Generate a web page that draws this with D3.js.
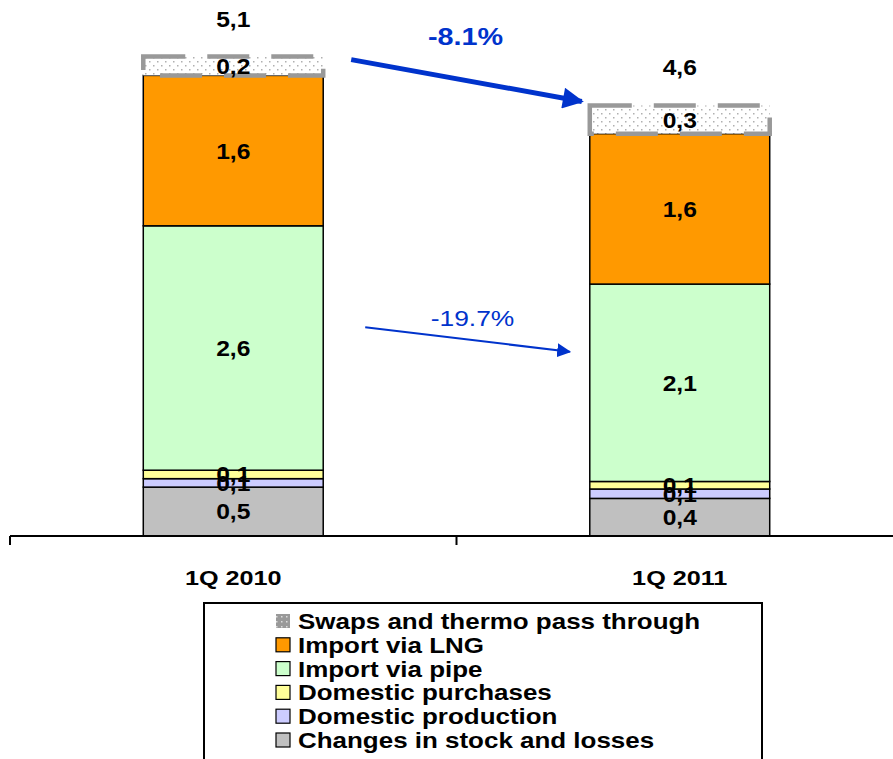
<!DOCTYPE html>
<html><head><meta charset="utf-8">
<script src="https://cdn.jsdelivr.net/npm/d3@7"></script>
<style>body{margin:0;background:#fff}svg{display:block;font-family:"Liberation Sans",Arial,sans-serif}</style>
</head><body>
<script>
const categories = ["1Q 2010", "1Q 2011"];
const seriesNames = ["Changes in stock and losses","Domestic production","Domestic purchases","Import via pipe","Import via LNG","Swaps and thermo pass through"];
const stockLosses = [0.52, 0.40];
const domesticProduction = [0.09, 0.10];
const domesticPurchases = [0.09, 0.08];
const importPipe = [2.60, 2.10];
const importLNG = [1.60, 1.60];
const swaps = [0.20, 0.30];
const colors = ["#C0C0C0","#CCCCFF","#FFFF99","#CCFFCC","#FF9900","url(#dots)"];
const changeLabels = ["-8.1%", "-19.7%"];
const legendOrder = [5,4,3,2,1,0];

const W = 893, H = 759;
const svg = d3.select("body").append("svg").attr("width", W).attr("height", H);
const defs = svg.append("defs");
const pat = defs.append("pattern").attr("id","dots").attr("patternUnits","userSpaceOnUse").attr("width",8).attr("height",8);
pat.append("rect").attr("width",8).attr("height",8).attr("fill","#fff");
pat.append("rect").attr("x",1).attr("y",1).attr("width",1.5).attr("height",1.5).attr("fill","#b0b0b0");
pat.append("rect").attr("x",5).attr("y",5).attr("width",1.5).attr("height",1.5).attr("fill","#b0b0b0");
const spat = defs.append("pattern").attr("id","sdots").attr("patternUnits","userSpaceOnUse").attr("width",5).attr("height",5);
spat.append("rect").attr("width",5).attr("height",5).attr("fill","#999");
spat.append("rect").attr("x",1).attr("y",1).attr("width",1.5).attr("height",1.5).attr("fill","#ddd");
["big","small"].forEach(id=>{
  defs.append("marker").attr("id","arr-"+id).attr("viewBox","0 0 10 10").attr("refX",9).attr("refY",5)
    .attr("markerWidth", id==="big"?4.4:7).attr("markerHeight", id==="big"?4.2:7).attr("markerUnits","strokeWidth").attr("orient","auto")
    .append("path").attr("d","M0,0L10,5L0,10Z").attr("fill","#0033CC");
});

// helper: horizontally widened text
function txt(parent, x0, y0, s, opts) {
  const gg = parent.append("g").attr("transform", `translate(${x0},${y0}) scale(${opts.sx || 1.15},1)`);
  const t = gg.append("text").attr("dy","0.36em").attr("font-size", opts.size || 22)
    .attr("font-weight", opts.weight || "bold").attr("fill", opts.fill || "#000")
    .attr("text-anchor", opts.anchor || "middle").text(s);
  return t;
}

const x = d3.scaleBand().domain(categories).range([10, 903]).paddingInner(0).paddingOuter(0);
const y = d3.scaleLinear().domain([0, 6]).range([536, 536 - 6*94]);
const barW = x.bandwidth() * 0.403;

const series = [stockLosses, domesticProduction, domesticPurchases, importPipe, importLNG, swaps];
const table = categories.map((c,i)=>{ const o={cat:c}; series.forEach((s,k)=>o[k]=s[i]); return o; });
const stack = d3.stack().keys(d3.range(series.length))(table);
const fmt = v => d3.format(".1f")(v).replace(".", ",");

const g = svg.append("g");
stack.forEach((layer, k)=>{
  layer.forEach((d,i)=>{
    const cx = x(categories[i]) + x.bandwidth()/2;
    const r = g.append("rect").attr("x", cx - barW/2).attr("y", y(d[1])).attr("width", barW).attr("height", y(d[0]) - y(d[1]))
      .attr("fill", colors[k]);
    if (k === 5) r.attr("stroke","#999").attr("stroke-width",4.5).attr("stroke-dasharray","42,22");
    else r.attr("stroke","#000").attr("stroke-width",1.5);
  });
});
stack.forEach((layer, k)=>{
  layer.forEach((d,i)=>{
    const cx = x(categories[i]) + x.bandwidth()/2;
    txt(g, cx, y((d[0]+d[1])/2), fmt(d[1]-d[0]), {size:22, sx:1.12});
  });
});
// totals
categories.forEach((c,i)=>{
  const tot = d3.sum(series, s=>s[i]);
  txt(g, x(c)+x.bandwidth()/2, y(tot) - 38, fmt(tot), {size:22, sx:1.12});
});

// axis
const ax = svg.append("g").attr("transform","translate(0,536)");
ax.append("line").attr("x1",10).attr("x2",W).attr("stroke","#000").attr("stroke-width",2);
[10, x(categories[1])].forEach(t=>ax.append("line").attr("x1",t).attr("x2",t).attr("y1",0).attr("y2",9).attr("stroke","#000").attr("stroke-width",2));
categories.forEach(c=>{
  txt(ax, x(c)+x.bandwidth()/2, 41, c, {size:21, sx:1.2});
});

// change arrows
const tot0 = d3.sum(series, s=>s[0]), tot1 = d3.sum(series, s=>s[1]);
const b0r = x(categories[0]) + x.bandwidth()/2 + barW/2, b1l = x(categories[1]) + x.bandwidth()/2 - barW/2;
svg.append("line").attr("x1", b0r+28).attr("y1", y(tot0)+3).attr("x2", b1l-8).attr("y2", y(tot1)-4)
  .attr("stroke","#0033CC").attr("stroke-width",5).attr("marker-end","url(#arr-big)");
txt(svg, (b0r+b1l)/2 + 9, 45, changeLabels[0], {size:24, sx:1.2, fill:"#0033CC"}).attr("dy", null);
txt(svg, (b0r+b1l)/2 + 16, 326, changeLabels[1], {size:22, sx:1.2, weight:"normal", fill:"#0033CC"}).attr("dy", null);
svg.append("line").attr("x1", b0r+42).attr("y1", y(2.22)).attr("x2", b1l-20).attr("y2", y(1.96))
  .attr("stroke","#0033CC").attr("stroke-width",2).attr("marker-end","url(#arr-small)");

// legend
const lg = svg.append("g");
lg.append("rect").attr("x",204).attr("y",603).attr("width",558).attr("height",170).attr("fill","#fff").attr("stroke","#000").attr("stroke-width",2);
legendOrder.forEach((k,j)=>{
  const cy = 621 + j*23.8;
  const sw = lg.append("rect").attr("x",276).attr("y",cy-7).attr("width",14).attr("height",14).attr("fill", colors[k]);
  if (k===5) sw.attr("fill","url(#sdots)");
  else sw.attr("stroke","#000").attr("stroke-width",1.2);
  txt(lg, 298, cy, seriesNames[k], {size:22, sx:1.18, anchor:"start"});
});
</script>
</body></html>
